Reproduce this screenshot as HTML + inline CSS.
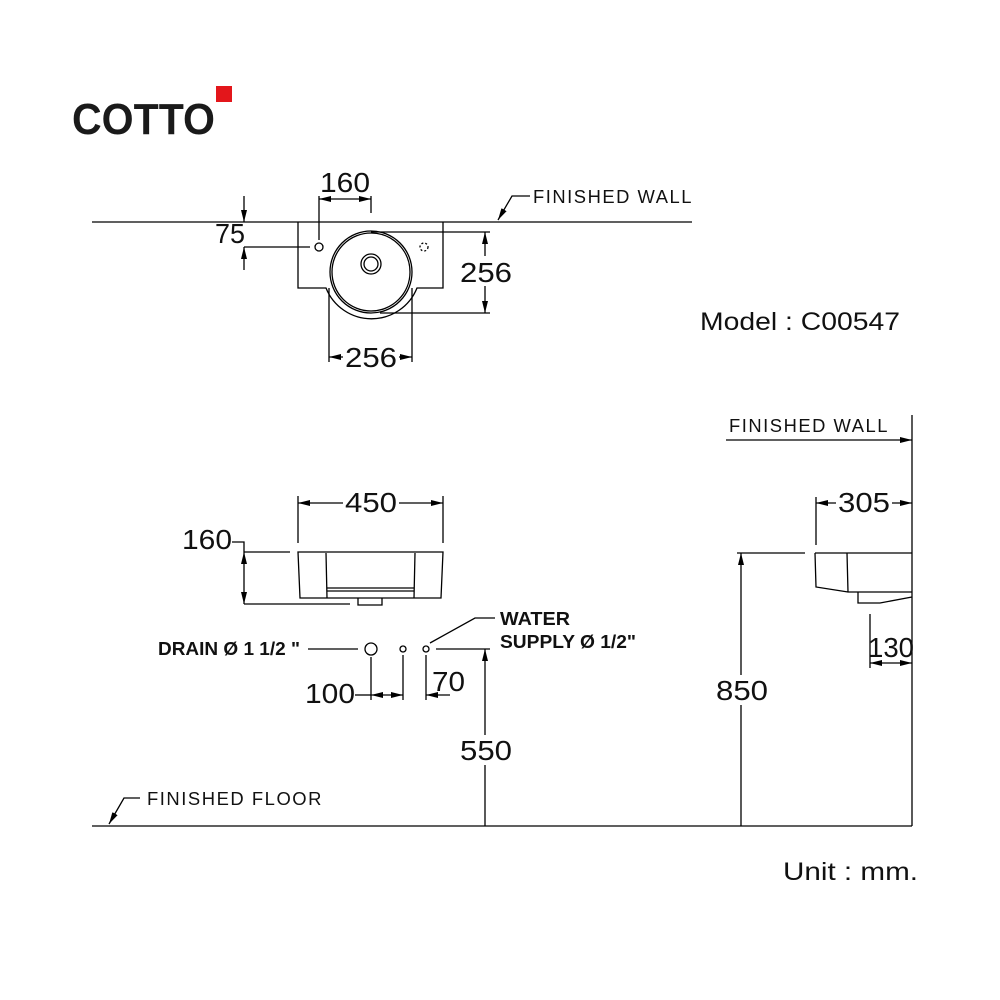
<!DOCTYPE html>
<html><head><meta charset="utf-8"><style>
html,body{margin:0;padding:0;background:#fff}
svg{display:block}
text{font-family:"Liberation Sans",sans-serif;fill:#111}
.d{font-size:28px;font-weight:normal}
.l{font-size:18px;letter-spacing:1.5px}
.b{font-size:18px;font-weight:bold}
</style></head><body>
<svg width="1000" height="1000" viewBox="0 0 1000 1000" xmlns="http://www.w3.org/2000/svg">
<defs>
<marker id="a" viewBox="0 0 12 6" refX="12" refY="3" markerWidth="12" markerHeight="6" markerUnits="userSpaceOnUse" orient="auto-start-reverse"><path d="M0,0L12,3L0,6z" fill="#000"/></marker>
</defs>
<!-- logo -->
<text x="72" y="134" textLength="143" lengthAdjust="spacingAndGlyphs" style="font-size:44px;font-weight:bold;fill:#1a1a1a">COTTO</text>
<rect x="216" y="86" width="16" height="16" fill="#e3161b"/>

<g stroke="#000" stroke-width="1.3" fill="none">
<line x1="92" y1="222" x2="692" y2="222"/>
<path d="M298,222 V288 H326 A49,49 0 0 0 417,288 H443 V222"/>
<circle cx="371" cy="272" r="41"/>
<circle cx="371" cy="272" r="39"/>
<circle cx="371" cy="264" r="10"/>
<circle cx="371" cy="264" r="7"/>
<circle cx="319" cy="247" r="4"/>
<circle cx="424" cy="247" r="4" stroke-dasharray="2,2"/>
<line x1="319" y1="196" x2="319" y2="240"/>
<line x1="371" y1="196" x2="371" y2="213"/>
<line x1="319" y1="199" x2="371" y2="199" marker-start="url(#a)" marker-end="url(#a)"/>
<line x1="244" y1="196" x2="244" y2="222" marker-end="url(#a)"/>
<line x1="244" y1="270" x2="244" y2="247" marker-end="url(#a)"/>
<line x1="244" y1="247" x2="310" y2="247"/>
<line x1="371" y1="232" x2="490" y2="232"/>
<line x1="380" y1="313" x2="490" y2="313"/>
<line x1="485" y1="232" x2="485" y2="313" marker-start="url(#a)" marker-end="url(#a)"/>
<line x1="329" y1="288" x2="329" y2="362"/>
<line x1="412" y1="288" x2="412" y2="362"/>
<line x1="329" y1="357" x2="412" y2="357" marker-start="url(#a)" marker-end="url(#a)"/>
<polyline points="530,196 512,196 498,220" marker-end="url(#a)"/>

<path d="M298,552 H443 L441,598 H300 Z"/>
<line x1="326" y1="553" x2="327" y2="598"/>
<line x1="415" y1="553" x2="414" y2="598"/>
<line x1="327" y1="588" x2="414" y2="588"/>
<line x1="327" y1="591" x2="414" y2="591"/>
<path d="M358,598 V605 H382 V598"/>
<line x1="298" y1="496" x2="298" y2="543"/>
<line x1="443" y1="496" x2="443" y2="543"/>
<line x1="298" y1="503" x2="443" y2="503" marker-start="url(#a)" marker-end="url(#a)"/>
<polyline points="232,542 244,542 244,552"/>
<line x1="244" y1="552" x2="290" y2="552"/>
<line x1="244" y1="604" x2="350" y2="604"/>
<line x1="244" y1="552" x2="244" y2="604" marker-start="url(#a)" marker-end="url(#a)"/>
<circle cx="371" cy="649" r="6"/>
<circle cx="403" cy="649" r="3"/>
<circle cx="426" cy="649" r="3"/>
<line x1="308" y1="649" x2="358" y2="649"/>
<line x1="436" y1="649" x2="490" y2="649"/>
<polyline points="430,643 475,618 495,618"/>
<line x1="371" y1="657" x2="371" y2="700"/>
<line x1="403" y1="655" x2="403" y2="700"/>
<line x1="426" y1="655" x2="426" y2="700"/>
<line x1="355" y1="695" x2="371" y2="695"/>
<line x1="371" y1="695" x2="403" y2="695" marker-start="url(#a)" marker-end="url(#a)"/>
<line x1="450" y1="695" x2="426" y2="695" marker-end="url(#a)"/>
<line x1="485" y1="826" x2="485" y2="649" marker-end="url(#a)"/>

<line x1="92" y1="826" x2="912" y2="826"/>
<polyline points="140,798 124,798 109,824" marker-end="url(#a)"/>

<line x1="912" y1="415" x2="912" y2="826"/>
<line x1="726" y1="440" x2="912" y2="440" marker-end="url(#a)"/>
<line x1="816" y1="497" x2="816" y2="545"/>
<line x1="816" y1="503" x2="912" y2="503" marker-start="url(#a)" marker-end="url(#a)"/>
<path d="M815,553 H912 M815,553 L816,587 L848,592 H912 M847,553 L848,592 M858,592 V603 H880 L912,597"/>
<line x1="737" y1="553" x2="805" y2="553"/>
<line x1="741" y1="826" x2="741" y2="553" marker-end="url(#a)"/>
<line x1="870" y1="614" x2="870" y2="668"/>
<line x1="870" y1="663" x2="912" y2="663" marker-start="url(#a)" marker-end="url(#a)"/>
</g>

<text class="d" x="320" y="192" textLength="50" lengthAdjust="spacingAndGlyphs">160</text>
<text class="d" x="215" y="243" textLength="30" lengthAdjust="spacingAndGlyphs">75</text>
<rect x="458" y="256" width="55" height="30" fill="#fff"/>
<text class="d" x="460" y="282" textLength="52" lengthAdjust="spacingAndGlyphs">256</text>
<rect x="343" y="344" width="56" height="26" fill="#fff"/>
<text class="d" x="345" y="367" textLength="52" lengthAdjust="spacingAndGlyphs">256</text>
<text class="l" x="533" y="203" textLength="160" lengthAdjust="spacingAndGlyphs">FINISHED  WALL</text>
<text style="font-size:25px" x="700" y="330" textLength="200" lengthAdjust="spacingAndGlyphs">Model : C00547</text>

<rect x="343" y="490" width="56" height="26" fill="#fff"/>
<text class="d" x="345" y="512" textLength="52" lengthAdjust="spacingAndGlyphs">450</text>
<text class="d" x="182" y="549" textLength="50" lengthAdjust="spacingAndGlyphs">160</text>
<text class="b" x="158" y="655" textLength="142" lengthAdjust="spacingAndGlyphs">DRAIN Ø 1 1/2 "</text>
<text class="b" x="500" y="625" textLength="70" lengthAdjust="spacingAndGlyphs">WATER</text>
<text class="b" x="500" y="648" textLength="136" lengthAdjust="spacingAndGlyphs">SUPPLY Ø 1/2"</text>
<text class="d" x="305" y="703" textLength="50" lengthAdjust="spacingAndGlyphs">100</text>
<text class="d" x="432" y="691" textLength="33" lengthAdjust="spacingAndGlyphs">70</text>
<rect x="458" y="735" width="55" height="30" fill="#fff"/>
<text class="d" x="460" y="760" textLength="52" lengthAdjust="spacingAndGlyphs">550</text>
<text class="l" x="147" y="805" textLength="176" lengthAdjust="spacingAndGlyphs">FINISHED  FLOOR</text>

<text class="l" x="729" y="432" textLength="160" lengthAdjust="spacingAndGlyphs">FINISHED  WALL</text>
<rect x="836" y="490" width="56" height="26" fill="#fff"/>
<text class="d" x="838" y="512" textLength="52" lengthAdjust="spacingAndGlyphs">305</text>
<rect x="713" y="675" width="56" height="30" fill="#fff"/>
<text class="d" x="716" y="700" textLength="52" lengthAdjust="spacingAndGlyphs">850</text>
<text class="d" x="868" y="657" textLength="46" lengthAdjust="spacingAndGlyphs">130</text>
<text style="font-size:25px" x="783" y="880" textLength="135" lengthAdjust="spacingAndGlyphs">Unit : mm.</text>
</svg>
</body></html>
